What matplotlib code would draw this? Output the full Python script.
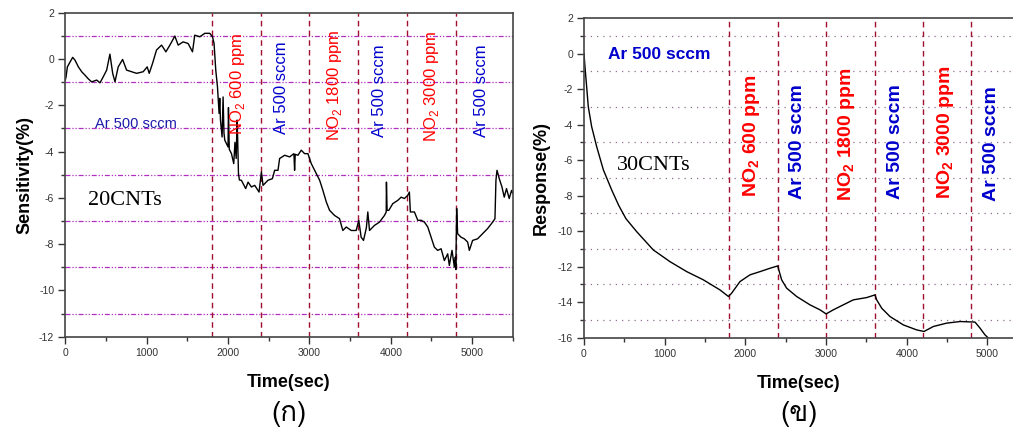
from matplotlib import pyplot
from matplotlib import font_manager as fm
from matplotlib.ft2font import FT2Font
from matplotlib.ticker import MultipleLocator
import numpy as np

# --- data ---
t20 = [0, 9, 25, 90, 119, 160, 201, 242, 280, 324, 385, 426, 466, 508, 548, 582, 610, 650, 704, 753,
       815, 876, 957, 1006, 1031, 1072, 1121, 1183, 1236, 1285, 1346, 1387, 1448, 1509, 1563, 1591,
       1653, 1714, 1775, 1809, 1828, 1849, 1870, 1890, 1898, 1907, 1927, 1939, 1950, 1960, 2000, 2005,
       2015, 2042, 2070, 2085, 2100, 2111, 2118, 2128, 2140, 2164, 2217, 2246, 2287, 2328, 2381, 2410,
       2430, 2491, 2545, 2573, 2614, 2634, 2696, 2757, 2810, 2818, 2826, 2859, 2900, 2941, 2982, 3023,
       3085, 3126, 3166, 3208, 3248, 3309, 3370, 3411, 3453, 3514, 3575, 3607, 3636, 3665, 3700, 3718,
       3739, 3800, 3861, 3923, 3944, 3947, 3955, 3976, 4025, 4086, 4128, 4168, 4209, 4229, 4241, 4291,
       4332, 4374, 4414, 4455, 4496, 4536, 4577, 4619, 4659, 4700, 4720, 4753, 4782, 4794, 4800, 4810,
       4822, 4864, 4904, 4945, 4966, 5006, 5067, 5129, 5190, 5252, 5281, 5293, 5306, 5334, 5367, 5395,
       5423, 5456, 5485, 5500]
s20 = [-0.9, -0.77, -0.34, 0.07, -0.05, -0.34, -0.55, -0.70, -0.85, -0.99, -0.91, -1.03, -0.77, -0.48,
       0.21, -0.62, -0.99, -0.34, -0.02, -0.48, -0.55, -0.62, -0.55, -0.34, -0.62, -0.19, 0.39, 0.60,
       0.31, 0.60, 0.99, 0.60, 0.74, 0.67, 0.31, 1.03, 0.96, 1.11, 1.11, 0.96, 0.67, -0.48, -1.20, -2.35,
       -1.70, -2.65, -3.37, -1.64, -3.2, -3.51, -3.80, -2.1, -3.9, -4.09, -4.52, -3.6, -4.3, -2.64, -3.4,
       -4.95, -5.23, -5.24, -5.60, -5.32, -5.53, -5.46, -5.75, -4.88, -5.46, -5.24, -5.17, -4.81, -4.81,
       -4.30, -4.16, -4.23, -4.09, -4.81, -4.12, -4.16, -3.94, -4.09, -4.09, -4.52, -4.95, -5.24, -5.68,
       -6.18, -6.54, -6.76, -6.90, -7.41, -7.26, -7.41, -7.41, -6.97, -7.70, -7.84, -7.3, -6.61, -7.41,
       -7.19, -7.05, -6.76, -6.61, -5.32, -6.54, -6.54, -6.25, -6.11, -5.97, -6.03, -5.89, -5.75, -6.61,
       -6.61, -6.97, -6.97, -7.05, -7.26, -7.70, -8.13, -8.27, -8.20, -8.71, -8.42, -8.92, -8.27, -8.99,
       -8.56, -9.1, -6.46, -7.55, -7.70, -7.77, -7.91, -8.27, -7.84, -7.77, -7.55, -7.33, -7.05, -6.90,
       -5.24, -4.81, -5.17, -5.53, -5.97, -5.60, -6.03, -5.68, -5.8]

t30 = [0, 12, 33, 53, 95, 157, 240, 343, 430, 520, 653, 859, 1066, 1273, 1478, 1685, 1790, 1830, 1933,
       2057, 2181, 2305, 2400, 2449, 2511, 2635, 2800, 2924, 3000, 3090, 3213, 3337, 3503, 3606, 3627,
       3689, 3792, 3957, 4122, 4213, 4329, 4494, 4660, 4845, 4907, 4969, 5010]
r30 = [0, -0.74, -1.87, -2.99, -4.12, -5.24, -6.55, -7.68, -8.55, -9.3, -10.03, -11.06, -11.72, -12.28,
       -12.74, -13.31, -13.68, -13.49, -12.84, -12.46, -12.28, -12.09, -11.96, -12.74, -13.21, -13.68,
       -14.15, -14.43, -14.66, -14.43, -14.15, -13.87, -13.74, -13.59, -13.87, -14.34, -14.81, -15.28,
       -15.56, -15.65, -15.37, -15.18, -15.09, -15.12, -15.46, -15.84, -16.02]

switch_times = [1800, 2400, 3000, 3600, 4200, 4800]
gas_labels = [r'NO$_2$ 600 ppm', 'Ar 500 sccm', r'NO$_2$ 1800 ppm', 'Ar 500 sccm',
              r'NO$_2$ 3000 ppm', 'Ar 500 sccm']
gas_labels_bf = [r'NO$_\mathbf{2}$ 600 ppm', 'Ar 500 sccm', r'NO$_\mathbf{2}$ 1800 ppm', 'Ar 500 sccm',
                 r'NO$_\mathbf{2}$ 3000 ppm', 'Ar 500 sccm']
gas_colors = ['#ff0000', '#0000cc', '#ff0000', '#0000cc', '#ff0000', '#0000cc']

# find a font that has thai glyphs for the panel captions
thai = 'DejaVu Sans'
for f in fm.fontManager.ttflist:
    try:
        if ord('\u0e01') in FT2Font(f.fname).get_charmap():
            thai = f.name
            break
    except Exception:
        pass

pyplot.rcParams['font.family'] = ['Liberation Sans', 'DejaVu Sans']
pyplot.rcParams['mathtext.fontset'] = 'custom'
pyplot.rcParams['mathtext.rm'] = 'Liberation Sans'
pyplot.rcParams['mathtext.bf'] = 'Liberation Sans:bold'
pyplot.rcParams['axes.unicode_minus'] = False

fig = pyplot.figure(figsize=(10.13, 4.34), dpi=100)
ax1 = fig.add_axes([0.0645, 0.2242, 0.4417, 0.7465])
ax2 = fig.add_axes([0.5765, 0.2219, 0.4235, 0.7366])

def style(ax):
    ax.xaxis.set_major_locator(MultipleLocator(1000))
    ax.xaxis.set_minor_locator(MultipleLocator(500))
    ax.yaxis.set_major_locator(MultipleLocator(2))
    ax.yaxis.set_minor_locator(MultipleLocator(1))
    ax.tick_params(which='major', direction='out', length=5, width=1, labelsize=7.5,
                   labelcolor='#333333', color='#333333', pad=3, top=False, right=False)
    ax.tick_params(which='minor', direction='out', length=3, width=1, color='#333333',
                   top=False, right=False)
    for sp in ax.spines.values():
        sp.set_color('#444444')
        sp.set_linewidth(1.2)
    ax.set_xlabel('Time(sec)', fontsize=13, fontweight='bold', labelpad=12)

# left panel: 20CNTs
for y in range(-11, 2, 2):
    ax1.axhline(y, color='#b030c0', lw=0.9, ls=(0, (4, 1.5, 1, 1.5, 1, 1.5)))
for x in switch_times:
    ax1.axvline(x, color='#a01030', lw=1, ls=(0, (4, 3)))
ax1.plot(t20, s20, color='k', lw=1)
ax1.set_xlim(0, 5500)
ax1.set_ylim(-12, 2)
style(ax1)
ax1.set_ylabel('Sensitivity(%)', fontsize=13, fontweight='bold', labelpad=4)
ax1.text(364, -2.98, 'Ar 500 sccm', color='#1a1aaa', fontsize=10.5, va='baseline')
ax1.text(279, -6.33, '20CNTs', family='Liberation Serif', fontsize=16, va='baseline')
for x, yb, lab, c in zip([2120, 2660, 3310, 3860, 4500, 5110], [-3.3, -3.25, -3.55, -3.35, -3.6, -3.35],
                         gas_labels, gas_colors):
    ax1.text(x, yb, lab, color=c, fontsize=12, rotation=90, ha='center', va='bottom')

# right panel: 30CNTs
for y in range(-15, 2, 2):
    ax2.axhline(y, color='#907090', lw=0.9, ls=(0, (1, 4)))
for x in switch_times:
    ax2.axvline(x, color='#a01030', lw=1, ls=(0, (4, 3)))
ax2.plot(t30, r30, color='k', lw=1)
ax2.set_xlim(0, 5316)
ax2.set_ylim(-16, 2)
style(ax2)
ax2.spines['right'].set_visible(False)
ax2.set_ylabel('Response(%)', fontsize=13, fontweight='bold', labelpad=6)
ax2.text(297, -0.33, 'Ar 500 sccm', color='#0000cc', fontsize=12.5, fontweight='bold', va='baseline')
ax2.text(405, -6.55, '30CNTs', family='Liberation Serif', fontsize=16, va='baseline')
for x, yb, lab, c in zip([2077, 2650, 3255, 3855, 4475, 5050], [-8.1, -8.2, -8.3, -8.2, -8.2, -8.3],
                         gas_labels_bf, gas_colors):
    ax2.text(x, yb, lab, color=c, fontsize=14, fontweight='bold', rotation=90, ha='center', va='bottom')

fig.text(0.2855, 0.045, '(\u0e01)', family=[thai, 'DejaVu Sans'], fontsize=20, ha='center', va='center')
fig.text(0.7885, 0.045, '(\u0e02)', family=[thai, 'DejaVu Sans'], fontsize=20, ha='center', va='center')

fig.savefig('out.png', dpi=100)
